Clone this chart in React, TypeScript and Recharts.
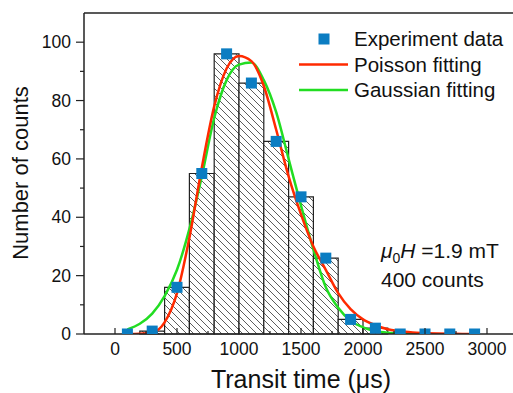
import React from "react"
import { ComposedChart, Line, Scatter, XAxis, YAxis, ReferenceArea, ReferenceLine } from "recharts"

// histogram bins (left edge, counts), bin width 200 us
const binStart = [200, 400, 600, 800, 1000, 1200, 1400, 1600, 1800, 2000]
const binCount = [1, 16, 55, 96, 86, 66, 47, 26, 5, 2]
const binWidth = 200

// experiment points at bin centres
const expTime = [100, 300, 500, 700, 900, 1100, 1300, 1500, 1700, 1900, 2100, 2300, 2500, 2700, 2900]
const expCount = [0, 1, 16, 55, 96, 86, 66, 47, 26, 5, 2, 0, 0, 0, 0]

// fitted curves
const poissonTime = [100, 200, 300, 400, 500, 600, 700, 800, 900, 1000, 1100, 1200, 1300, 1400, 1500, 1600, 1700, 1800, 1900, 2000, 2100, 2200, 2300, 2400, 2500, 2600, 2700, 2800, 2900]
const poissonVal = [0, 0.1, 0.5, 4, 14, 33, 57, 78, 91, 95.3, 93.5, 85, 70, 54, 41, 30, 22, 14, 8.5, 5, 3, 1.6, 1, 0.5, 0.3, 0.15, 0.08, 0.04, 0]
const gaussTime = [100, 200, 300, 400, 500, 600, 700, 800, 900, 1000, 1100, 1200, 1300, 1400, 1500, 1600, 1700, 1800, 1900, 2000, 2100, 2200, 2300, 2400, 2500]
const gaussVal = [1.6, 3.5, 7, 13, 22, 36, 54, 74, 87, 92.3, 93, 87, 76, 60, 44, 29, 16, 9, 4.5, 2.3, 1, 0.4, 0.15, 0.05, 0]

const xTicks = [0, 250, 500, 750, 1000, 1250, 1500, 1750, 2000, 2250, 2500, 2750, 3000]
const yTicks = [0, 10, 20, 30, 40, 50, 60, 70, 80, 90, 100]

const FONT = "'Liberation Sans', Arial, sans-serif"
const AXIS = "#222"
const BLUE = "#0b7dc2"
const RED = "#ff2a00"
const GREEN = "#22dd22"

const expData = expTime.map((t, i) => ({ x: t, y: expCount[i] }))
const poissonData = poissonTime.map((t, i) => ({ x: t, y: poissonVal[i] }))
const gaussData = gaussTime.map((t, i) => ({ x: t, y: gaussVal[i] }))

function XTick(props: any) {
  const { x, y, payload } = props
  const major = payload.value % 500 === 0
  return (
    <g>
      <line x1={x} x2={x} y1={y} y2={y - (major ? 6 : 3)} stroke={AXIS} strokeWidth={1.2} />
      {major && (
        <text x={x} y={y + 21} textAnchor="middle" fontSize={17.5} fontFamily={FONT} fill="#111">
          {payload.value}
        </text>
      )}
    </g>
  )
}

function YTick(props: any) {
  const { x, y, payload } = props
  const major = payload.value % 20 === 0
  return (
    <g>
      <line x1={x} x2={x - (major ? 8 : 4)} y1={y} y2={y} stroke={AXIS} strokeWidth={1.2} />
      {major && (
        <text x={x - 13} y={y + 6} textAnchor="end" fontSize={17.5} fontFamily={FONT} fill="#111">
          {payload.value}
        </text>
      )}
    </g>
  )
}

function Square(props: any) {
  const { cx, cy } = props
  return <rect x={cx - 5.5} y={cy - 5.5} width={11} height={11} fill={BLUE} />
}

export default function App() {
  return (
    <div style={{ position: "absolute", left: 0, top: 0, width: 513, height: 393, overflow: "hidden", background: "#fff" }}>
      <ComposedChart width={518} height={393} margin={{ top: 13, right: 0, left: 0, bottom: 0 }}>
        <defs>
          <pattern id="hatch" width="7" height="7" patternUnits="userSpaceOnUse">
            <rect width="7" height="7" fill="#fff" />
            <path d="M-1,-1 L8,8 M6,-1 L8,1 M-1,6 L1,8" stroke="#333" strokeWidth="0.8" />
          </pattern>
        </defs>
        <XAxis
          type="number"
          dataKey="x"
          domain={[-250, 3250]}
          ticks={xTicks}
          interval={0}
          tickSize={0}
          tickMargin={0}
          tick={<XTick />}
          height={59}
          axisLine={{ stroke: AXIS, strokeWidth: 1.5 }}
          allowDataOverflow
        />
        <YAxis
          type="number"
          dataKey="y"
          domain={[0, 110]}
          ticks={yTicks}
          interval={0}
          tickSize={0}
          tickMargin={0}
          tick={<YTick />}
          width={84}
          axisLine={{ stroke: AXIS, strokeWidth: 1.5 }}
          allowDataOverflow
        />
        <ReferenceLine y={110} stroke={AXIS} strokeWidth={1.5} />
        {binStart.map((s, i) => (
          <ReferenceArea
            key={s}
            x1={s}
            x2={s + binWidth}
            y1={0}
            y2={binCount[i]}
            fill="url(#hatch)"
            fillOpacity={1}
            stroke={AXIS}
            strokeWidth={1.2}
          />
        ))}
        <Scatter data={expData} dataKey="y" shape={<Square />} isAnimationActive={false} />
        <Line data={gaussData} dataKey="y" type="monotone" stroke={GREEN} strokeWidth={2.5} dot={false} isAnimationActive={false} />
        <Line data={poissonData} dataKey="y" type="monotone" stroke={RED} strokeWidth={2.5} dot={false} isAnimationActive={false} />
      </ComposedChart>
      <svg width={513} height={393} style={{ position: "absolute", left: 0, top: 0, pointerEvents: "none" }} fontFamily={FONT}>
        <text transform="translate(28,173) rotate(-90)" textAnchor="middle" fontSize={22} fill="#111">
          Number of counts
        </text>
        <text x={301} y={388} textAnchor="middle" fontSize={25} fill="#111">
          Transit time (μs)
        </text>
        <rect x={318.5} y={33.5} width={11} height={11} fill={BLUE} />
        <text x={354} y={46} fontSize={20.5} fill="#111">Experiment data</text>
        <line x1={299} x2={348} y1={64.5} y2={64.5} stroke={RED} strokeWidth={2.5} />
        <text x={354} y={71.5} fontSize={20.5} fill="#111">Poisson fitting</text>
        <line x1={299} x2={348} y1={90} y2={90} stroke={GREEN} strokeWidth={2.5} />
        <text x={354} y={97} fontSize={20.5} fill="#111">Gaussian fitting</text>
        <text x={381} y={258} fontSize={21} fill="#111">
          <tspan fontStyle="italic">μ</tspan>
          <tspan fontSize={14} dy={5}>0</tspan>
          <tspan fontStyle="italic" dy={-5}>H</tspan>
          <tspan> =1.9 mT</tspan>
        </text>
        <text x={381} y={287} fontSize={21} fill="#111">400 counts</text>
      </svg>
    </div>
  )
}
